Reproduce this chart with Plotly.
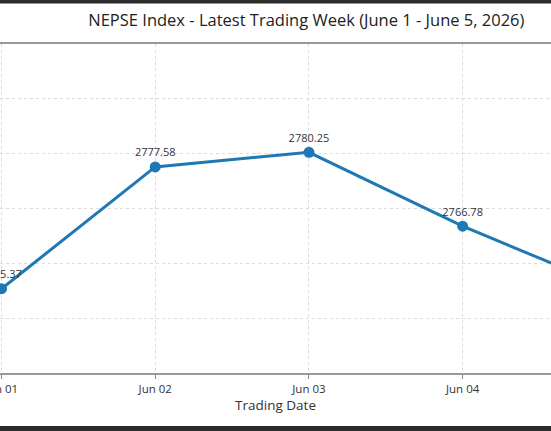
import plotly.graph_objects as go

# NEPSE closing index for the trading week
dates = ["Jun 01", "Jun 02", "Jun 03", "Jun 04", "Jun 05"]
index_values = [2755.37, 2777.58, 2780.25, 2766.78, 2755.10]
y_ticks = [2750, 2760, 2770, 2780, 2790]

x_pos = list(range(len(dates)))
labels = [f"{v:.2f}" for v in index_values]

FONT = "Open Sans"

fig = go.Figure()

fig.add_trace(go.Scatter(
    x=x_pos,
    y=index_values,
    mode='lines+markers+text',
    text=labels,
    textposition='top center',
    textfont=dict(size=11, color='#333333', family=FONT),
    line=dict(color='#1f77b4', width=3),
    marker=dict(size=11, color='#1f77b4'),
    showlegend=False,
))

# dark strips of the screenshot frame
for y0, y1 in [(1.123, 1.16), (-0.161, -0.2)]:
    fig.add_shape(type='rect', xref='paper', yref='paper',
                  x0=0, x1=1, y0=y0, y1=y1,
                  fillcolor='#2b2b2b', line=dict(width=0), layer='above')

fig.update_layout(
    width=551,
    height=431,
    margin=dict(l=0, r=0, t=44, b=58, autoexpand=False),
    paper_bgcolor='white',
    plot_bgcolor='white',
    font=dict(family=FONT, color='#333333'),
    title=dict(
        text="NEPSE Index - Latest Trading Week (June 1 - June 5, 2026)",
        x=0.556,
        xanchor='center',
        y=0.952,
        yanchor='middle',
        font=dict(size=16.5, color='#222222', family=FONT)
    ),
    xaxis=dict(
        range=[-0.01, 3.575],
        automargin=False,
        tickmode='array',
        tickvals=x_pos,
        ticktext=dates,
        tickfont=dict(size=11.5, color='#333333'),
        ticklabeloverflow='allow',
        ticks='outside',
        ticklen=4,
        tickcolor='#888888',
        showline=True,
        linecolor='#999999',
        linewidth=1.5,
        mirror=True,
        showgrid=True,
        gridcolor='#dcdcdc',
        griddash='3px,3px',
        gridwidth=1,
        zeroline=False,
        title=dict(text="Trading Date", font=dict(size=13.5, color='#333333'), standoff=2),
    ),
    yaxis=dict(
        range=[2740, 2800],
        automargin=False,
        tickmode='array',
        tickvals=y_ticks,
        showticklabels=False,
        showline=False,
        showgrid=True,
        gridcolor='#dcdcdc',
        griddash='3px,3px',
        gridwidth=1,
        zeroline=False,
    ),
)

fig.write_html("out.html", config={'displayModeBar': False},
               post_script="document.body.style.margin='0';")
